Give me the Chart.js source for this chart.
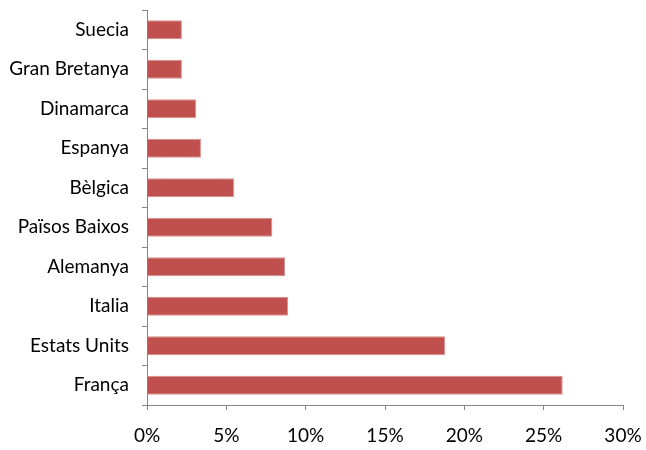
<!DOCTYPE html>
<html><head><meta charset="utf-8">
<script src="https://cdn.jsdelivr.net/npm/chart.js@4"></script>
<style>html,body{margin:0;padding:0;background:#fff}#w{width:646px;height:450px}</style>
</head><body><div id="w"><canvas id="c"></canvas></div>
<script>
const categories = ["Suecia","Gran Bretanya","Dinamarca","Espanya","Bèlgica","Països Baixos","Alemanya","Italia","Estats Units","França"];
const values = [2.2, 2.2, 3.1, 3.4, 5.5, 7.9, 8.7, 8.9, 18.8, 26.2];
const xTicks = [0,5,10,15,20,25,30];
const axisColor = '#868686';
const font = {family: 'Lato, "Open Sans", sans-serif', size: 19};
new Chart(document.getElementById('c'), {
  type: 'bar',
  data: {labels: categories, datasets: [{data: values, backgroundColor: '#C0504D', borderColor: '#D68F8D', borderWidth: 1, borderSkipped: 'left', barPercentage: 0.48, categoryPercentage: 1}]},
  options: {
    indexAxis: 'y', responsive: true, maintainAspectRatio: false, animation: false,
    layout: {padding: {top: 10, right: 23, left: 0, bottom: 0}},
    plugins: {legend: {display: false}, tooltip: {enabled: false}},
    scales: {
      x: {min: 0, max: 30, afterBuildTicks: s => { s.ticks = xTicks.map(v => ({value: v})); },
          grid: {display: true, drawOnChartArea: false, drawTicks: true, tickLength: 5, color: axisColor},
          border: {color: axisColor, width: 1},
          ticks: {color: '#000', font: font, padding: 14, callback: v => v + '%'},
          afterFit: s => { s.height = 45; s.paddingLeft = 0; s.paddingRight = 0; }},
      y: {grid: {display: true, drawOnChartArea: false, drawTicks: true, tickLength: 5, color: axisColor, offset: true},
          border: {color: axisColor, width: 1},
          ticks: {color: '#000', font: font, padding: 13},
          afterFit: s => { s.width = 147; s.paddingTop = 0; s.paddingBottom = 0; }}
    }
  }
});
</script></body></html>
